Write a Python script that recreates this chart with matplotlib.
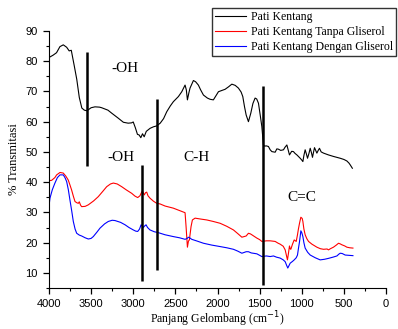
import matplotlib
matplotlib.use("Agg")
import matplotlib.pyplot as plt
from matplotlib.ticker import MultipleLocator

# ---- data ----
black_x = [4000, 3950, 3910, 3870, 3830, 3790, 3760, 3735, 3700, 3670, 3640, 3610, 3580, 3550, 3500, 3454,
           3400, 3374, 3300, 3255, 3180, 3117, 3060, 3020, 3000, 2975, 2950, 2930, 2910, 2890, 2870, 2845,
           2800, 2760, 2721, 2680, 2640, 2602, 2560, 2524, 2464, 2424, 2385, 2370, 2357, 2340, 2326, 2286,
           2260, 2227, 2200, 2167, 2120, 2088, 2049, 2020, 1989, 1950, 1910, 1870, 1830, 1790, 1752, 1720,
           1700, 1680, 1660, 1633, 1605, 1580, 1554, 1535, 1514, 1495, 1474, 1455, 1440, 1423, 1396, 1375,
           1355, 1316, 1296, 1277, 1250, 1217, 1200, 1177, 1160, 1146, 1120, 1099, 1080, 1058, 1040, 1019,
           1000, 987, 975, 960, 945, 932, 915, 900, 885, 873, 860, 849, 835, 821, 805, 790, 770, 742, 683,
           624, 544, 500, 465, 440, 425, 400]
black_y = [81.2, 82.0, 82.8, 84.8, 85.4, 84.6, 83.4, 83.6, 78.5, 74.0, 68.0, 64.5, 63.8, 63.6, 64.6, 64.9,
           64.8, 64.6, 63.8, 62.8, 61.2, 59.8, 59.5, 59.6, 59.9, 58.0, 55.8, 55.6, 54.7, 56.0, 55.0, 56.8,
           57.8, 58.3, 58.6, 59.5, 61.0, 63.3, 65.2, 66.6, 68.3, 69.9, 72.1, 70.5, 67.2, 69.5, 71.1, 73.6,
           73.2, 72.1, 70.5, 68.8, 67.8, 67.4, 67.2, 68.5, 69.9, 70.3, 70.7, 71.5, 72.4, 72.0, 71.1, 69.8,
           68.3, 65.0, 62.2, 60.0, 62.8, 66.0, 67.8, 67.5, 66.1, 62.5, 58.4, 52.3, 51.9, 52.0, 51.8, 50.7,
           50.1, 49.9, 51.0, 50.9, 50.5, 50.7, 51.5, 52.3, 50.5, 49.0, 50.2, 50.1, 49.5, 49.0, 48.5, 47.9,
           47.3, 46.8, 48.8, 50.7, 49.3, 47.9, 49.5, 51.2, 49.7, 48.2, 50.0, 51.4, 50.5, 49.6, 50.5, 51.2,
           50.0, 49.6, 49.0, 48.5, 47.9, 47.5, 47.0, 46.3, 45.7, 44.6]

red_x = [4000, 3968, 3930, 3909, 3869, 3830, 3800, 3771, 3750, 3731, 3710, 3691, 3670, 3652, 3640, 3625,
         3612, 3570, 3533, 3470, 3415, 3360, 3315, 3270, 3236, 3190, 3137, 3080, 3018, 2980, 2947, 2920,
         2907, 2892, 2880, 2868, 2855, 2840, 2825, 2801, 2760, 2721, 2682, 2622, 2524, 2450, 2385, 2380,
         2373, 2357, 2345, 2334, 2322, 2314, 2298, 2266, 2200, 2127, 2050, 1969, 1890, 1811, 1760, 1711,
         1685, 1660, 1633, 1610, 1593, 1533, 1500, 1474, 1420, 1375, 1316, 1280, 1257, 1220, 1197, 1180,
         1170, 1158, 1146, 1138, 1130, 1110, 1090, 1066, 1051, 1040, 1027, 1011, 995, 987, 975, 960, 940,
         920, 880, 821, 780, 742, 700, 683, 660, 624, 590, 564, 545, 525, 490, 465, 430, 393]
red_y = [40.5, 40.6, 41.5, 42.4, 43.2, 43.0, 42.0, 40.7, 39.0, 37.4, 35.3, 33.6, 33.2, 33.0, 33.5, 32.4,
         31.9, 32.0, 32.5, 33.8, 35.2, 37.0, 38.5, 39.4, 39.7, 39.4, 38.5, 37.4, 36.3, 35.4, 34.9, 35.5,
         36.3, 37.1, 36.4, 35.8, 36.5, 36.7, 35.5, 34.7, 33.7, 33.0, 32.8, 32.1, 31.4, 30.6, 29.9, 28.0,
         25.3, 18.5, 20.5, 20.9, 23.5, 25.3, 27.5, 28.1, 27.8, 27.5, 27.0, 26.4, 25.4, 24.2, 23.0, 21.8,
         22.0, 22.2, 23.1, 22.9, 22.6, 21.5, 21.0, 20.4, 20.6, 20.6, 20.4, 19.8, 19.5, 18.8, 17.6, 15.5,
         14.3, 16.5, 18.9, 18.0, 17.8, 19.5, 20.9, 20.4, 22.6, 24.5, 26.4, 28.4, 28.0, 27.0, 24.5, 22.6, 21.3,
         20.4, 19.5, 18.5, 18.0, 17.8, 17.9, 17.6, 18.0, 18.5, 19.2, 19.8, 19.6, 19.3, 18.9, 18.5, 18.3, 18.2]

blue_x = [4000, 3988, 3960, 3929, 3900, 3869, 3830, 3810, 3790, 3770, 3751, 3730, 3711, 3690, 3671, 3640,
          3612, 3570, 3533, 3500, 3474, 3430, 3394, 3340, 3296, 3250, 3216, 3150, 3097, 3050, 2999, 2970,
          2947, 2925, 2907, 2893, 2880, 2865, 2848, 2830, 2801, 2750, 2702, 2622, 2524, 2450, 2385, 2360,
          2346, 2330, 2306, 2240, 2167, 2070, 1969, 1890, 1811, 1760, 1711, 1680, 1660, 1633, 1600, 1533,
          1500, 1474, 1420, 1375, 1336, 1300, 1257, 1220, 1197, 1180, 1166, 1150, 1138, 1110, 1090, 1066,
          1051, 1040, 1027, 1011, 1000, 987, 975, 960, 930, 900, 840, 782, 730, 683, 630, 583, 560, 544,
          520, 485, 440, 393]
blue_y = [31.9, 34.7, 37.5, 39.7, 41.5, 42.4, 42.4, 41.5, 40.2, 37.5, 34.1, 30.5, 27.0, 24.5, 23.1, 22.5,
          22.2, 21.6, 21.2, 21.4, 22.0, 23.5, 24.8, 26.2, 27.0, 27.4, 27.3, 26.7, 25.9, 25.0, 24.2, 23.8,
          23.7, 24.5, 25.9, 25.5, 25.0, 25.5, 25.9, 25.0, 24.2, 23.6, 23.3, 22.6, 22.0, 21.6, 21.1, 21.4,
          21.8, 21.6, 21.1, 20.5, 19.8, 19.2, 18.7, 18.3, 17.8, 17.2, 16.5, 16.8, 17.0, 17.0, 16.6, 16.3,
          15.8, 15.4, 15.6, 15.4, 15.6, 15.2, 14.9, 14.3, 13.7, 12.5, 11.6, 12.5, 13.2, 13.8, 14.3, 15.0,
          15.9, 18.0, 20.3, 23.9, 23.3, 22.0, 20.0, 18.2, 16.8, 15.9, 15.0, 14.3, 14.5, 14.8, 15.2, 15.6, 16.2, 16.5,
          16.4, 15.9, 15.8, 15.7]

series_labels = ["Pati Kentang", "Pati Kentang Tanpa Gliserol", "Pati Kentang Dengan Gliserol"]

marker_x = [3545, 2900, 2714, 1455]
marker_ymin = [45.4, 7.4, 11.0, 6.0]
marker_ymax = [83.1, 45.7, 67.5, 71.8]

annot_text = ["-OH", "-OH", "C-H", "C=C"]
annot_x = [3100, 3150, 2250, 1000]
annot_y = [77.5, 48.0, 48.0, 35.0]

# ---- figure ----
fig = plt.figure(figsize=(3.98, 3.29), dpi=100)
ax = fig.add_axes([0.123, 0.1246, 0.847, 0.7814])

ax.plot(black_x, black_y, color="black", lw=0.8, label=series_labels[0])
ax.plot(red_x, red_y, color="red", lw=0.8, label=series_labels[1])
ax.plot(blue_x, blue_y, color="blue", lw=0.8, label=series_labels[2])

for mx, y0, y1 in zip(marker_x, marker_ymin, marker_ymax):
    ax.plot([mx, mx], [y0, y1], color="black", lw=1.8, solid_capstyle="butt")

for t, tx, ty in zip(annot_text, annot_x, annot_y):
    ax.text(tx, ty, t, ha="center", va="center", fontsize=11, family="Liberation Serif")

ax.set_xlim(4000, 0)
ax.set_ylim(5, 90)
ax.spines["top"].set_visible(False)
ax.spines["right"].set_visible(False)
ax.xaxis.set_major_locator(MultipleLocator(500))
ax.xaxis.set_minor_locator(MultipleLocator(250))
ax.yaxis.set_major_locator(MultipleLocator(10))
ax.yaxis.set_minor_locator(MultipleLocator(5))
ax.set_yticks([10, 20, 30, 40, 50, 60, 70, 80, 90])
ax.tick_params(which="major", direction="out", length=4.5, width=0.9, labelsize=8)
ax.tick_params(which="minor", direction="out", length=2.5, width=0.8)
for lab in ax.get_xticklabels() + ax.get_yticklabels():
    lab.set_family("Liberation Sans")

ax.set_xlabel("Panjang Gelombang (cm$^{-1}$)", family="Liberation Serif", fontsize=8.5, labelpad=0)
ax.set_ylabel("% Transmitasi", family="Liberation Serif", fontsize=9, labelpad=4)

leg = ax.legend(loc="upper left", bbox_to_anchor=(0.533, 0.976), bbox_transform=fig.transFigure,
                prop={"family": "Liberation Serif", "size": 8.5}, frameon=True, fancybox=False,
                edgecolor="black", borderpad=0.25, labelspacing=0.25, handlelength=2.6,
                handletextpad=0.4, borderaxespad=0)
leg.get_frame().set_linewidth(1.0)

fig.savefig("out.png", dpi=100)
